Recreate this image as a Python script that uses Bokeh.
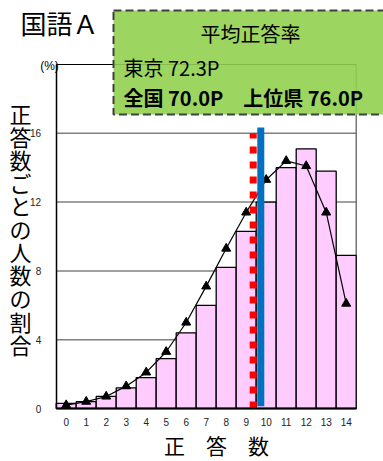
from bokeh.plotting import figure
from bokeh.models import Range1d, FixedTicker, Label, LinearAxis
from bokeh.embed import file_html
from bokeh.resources import INLINE

# ---- data ----
scores = list(range(15))
score_labels = [str(s) for s in scores]
tokyo_pct = [0.3, 0.4, 0.7, 1.2, 1.8, 2.9, 4.4, 6.0, 8.2, 10.3, 12.0, 14.0, 15.1, 13.8, 8.9]
national_pct = [0.2, 0.4, 0.7, 1.3, 2.1, 3.3, 5.0, 7.1, 9.3, 11.4, 13.3, 14.4, 14.1, 11.4, 6.1]
y_ticks = [0, 4, 8, 12, 16]
y_max = 20
national_mean_pos = 9.35
tokyo_mean_pos = 9.73

title_text = "国語Ａ"
y_title = "正\n答\n数\nご\nと\nの\n人\n数\nの\n割\n合"
x_title = "正　答　数"
box_title = "平均正答率"
box_line1 = "東京 72.3P"
box_line2 = "全国 70.0P　上位県 76.0P"

JP = "Noto Sans CJK JP"
x_lo, x_hi = scores[0] - 0.5, scores[-1] + 0.5

p = figure(width=383, height=461, output_backend="svg", toolbar_location=None,
           x_range=Range1d(-3.285, 15.865), y_range=Range1d(-3.081, 23.721),
           x_axis_location=None, y_axis_location=None,
           min_border_left=0, min_border_right=0, min_border_top=0, min_border_bottom=0)
p.background_fill_color = "white"
p.border_fill_color = "white"
p.outline_line_color = None
p.grid.grid_line_color = None

# axes placed at fixed data locations
xax = LinearAxis(fixed_location=0, bounds=(x_lo, x_hi), ticker=FixedTicker(ticks=scores))
xax.major_label_overrides = {s: l for s, l in zip(scores, score_labels)}
yax = LinearAxis(fixed_location=x_lo, bounds=(0, y_max), ticker=FixedTicker(ticks=y_ticks))
for ax in (xax, yax):
    ax.major_tick_line_color = None
    ax.minor_tick_line_color = None
    ax.axis_line_color = "black"
    ax.major_label_text_font = "Liberation Sans"
    ax.major_label_text_font_size = "10px"
    ax.major_label_text_color = "#222222"
xax.axis_line_width = 2
yax.axis_line_width = 1.5
xax.major_label_standoff = 3
yax.major_label_standoff = 9

# grid lines and frame borders
p.segment(x0=[x_lo] * len(y_ticks[1:]), y0=y_ticks[1:], x1=[x_hi] * len(y_ticks[1:]), y1=y_ticks[1:],
          line_color="#808080", line_width=1.5)
p.segment(x0=[x_hi], y0=[0], x1=[x_hi], y1=[y_max], line_color="#555555", line_width=1.2)
p.segment(x0=[x_lo], y0=[y_max], x1=[x_hi], y1=[y_max], line_color="black", line_width=1.2)

# bars (Tokyo)
p.vbar(x=scores, top=tokyo_pct, width=1.0, fill_color="#FFCCFF", line_color="black", line_width=1.3)
# national line
p.line(scores, national_pct, line_color="black", line_width=1.2)
p.scatter(scores, national_pct, marker="triangle", size=9, fill_color="black", line_color="black")

# mean lines
p.segment(x0=[national_mean_pos], y0=[0], x1=[national_mean_pos], y1=[16.0],
          line_color="#FF0000", line_width=7, line_dash="7 8")
p.segment(x0=[tokyo_mean_pos], y0=[0.13], x1=[tokyo_mean_pos], y1=[16.34],
          line_color="#0070C0", line_width=7)

p.add_layout(xax, "below")
p.add_layout(yax, "left")

# green box
p.quad(left=[2.365], right=[16.3], top=[23.14], bottom=[17.09],
       fill_color="#92D050", fill_alpha=0.9,
       line_color="#404040", line_width=2, line_dash="8 4")

p.add_layout(Label(x=9.215, y=21.8, text=box_title, text_align="center", text_baseline="middle",
                   text_font=JP, text_font_size="20px", text_color="black"))
p.add_layout(Label(x=2.865, y=19.83, text=box_line1, text_align="left", text_baseline="middle",
                   text_font=JP, text_font_size="20px", text_color="black"))
p.add_layout(Label(x=2.865, y=18.08, text=box_line2, text_align="left", text_baseline="middle",
                   text_font=JP, text_font_size="20px", text_font_style="bold", text_color="black"))

# titles
p.add_layout(Label(x=-2.285, y=22.44, text=title_text, text_align="left", text_baseline="middle",
                   text_font=JP, text_font_size="26px", text_color="black"))
p.add_layout(Label(x=-2.285, y=18.1, text=y_title, text_align="center", text_baseline="top",
                   text_font=JP, text_font_size="22px", text_line_height=0.72, text_color="black"))
p.add_layout(Label(x=-0.835, y=19.94, text="(%)", text_align="center", text_baseline="middle",
                   text_font="Liberation Sans", text_font_size="12px", text_color="black"))
p.add_layout(Label(x=7.515, y=-2.15, text=x_title, text_align="center", text_baseline="middle",
                   text_font=JP, text_font_size="21px", text_color="black"))

open("out.html", "w").write(file_html(p, INLINE))
